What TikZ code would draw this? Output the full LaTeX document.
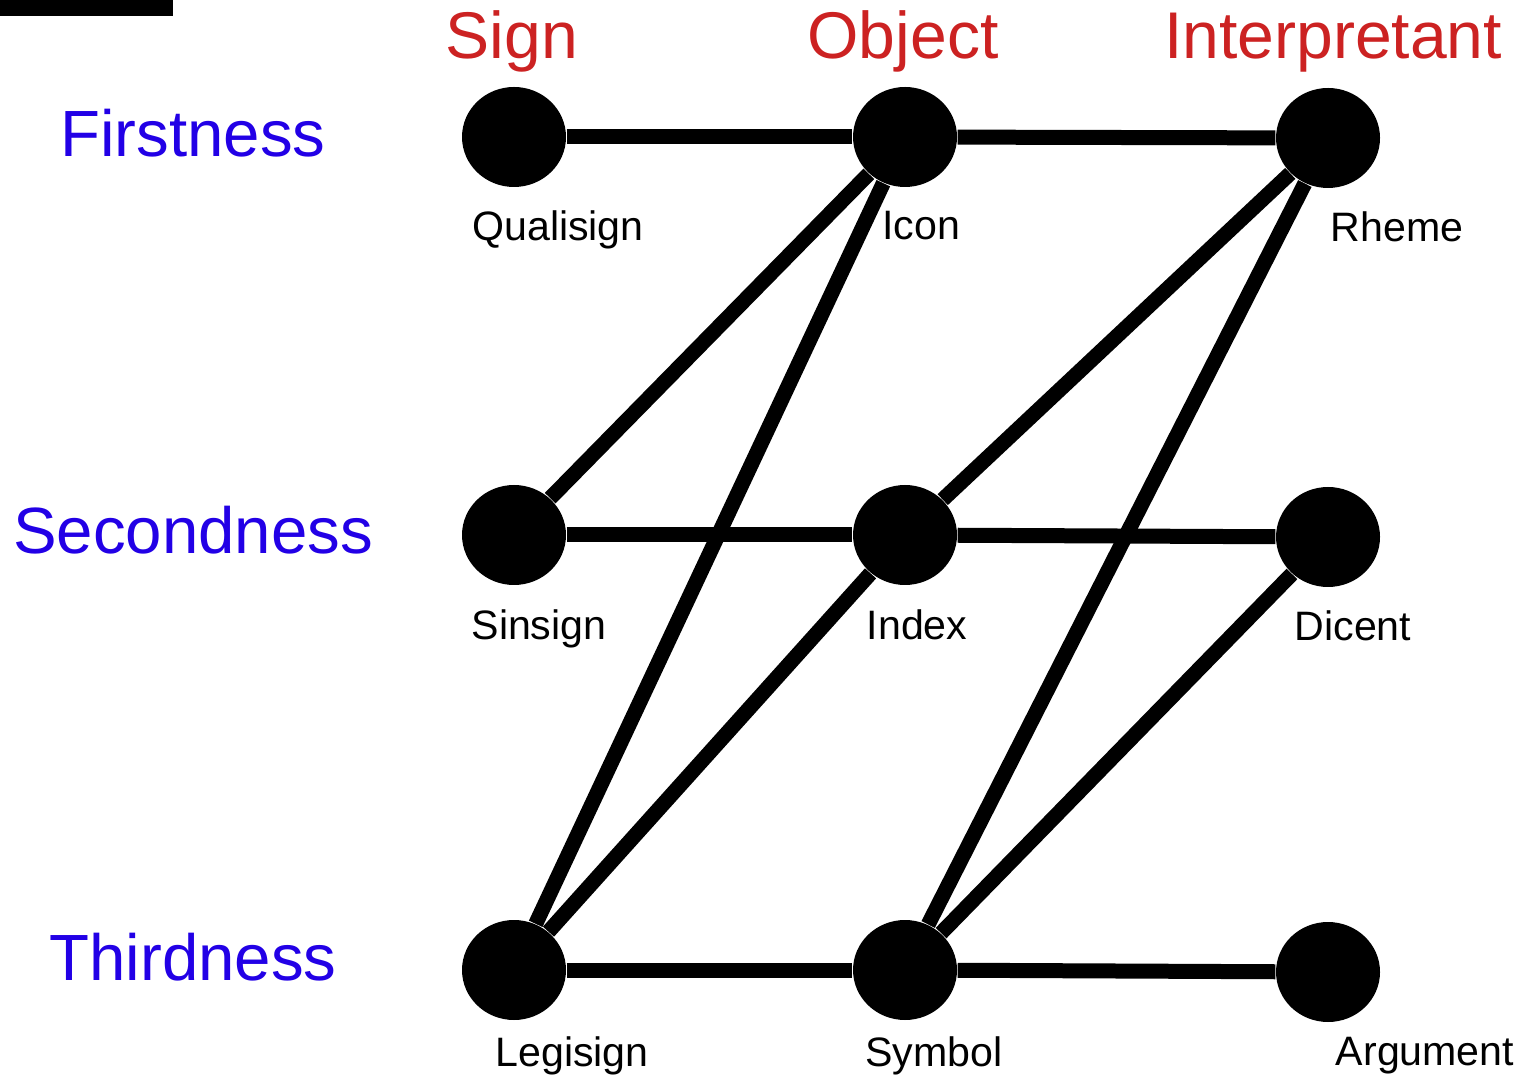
\documentclass[tikz,border=0pt]{standalone}
\usepackage{fontspec}
\setmainfont{Liberation Sans}
\usetikzlibrary{
    positioning,
    shapes.geometric
}
\definecolor{HeadRed}{RGB}{204,34,34}
\definecolor{CatBlue}{RGB}{34,0,230}

\begin{document}
\begin{tikzpicture}[
    sigdot/.style={ellipse, fill=black, minimum width=1.04cm, minimum height=1cm, inner sep=0pt},
    lbl/.style={font=\fontsize{11.7}{14}\selectfont, inner sep=0pt},
    header/.style={font=\fontsize{18.8}{22}\selectfont, text=HeadRed, inner sep=0pt, anchor=base},
    category/.style={font=\fontsize{18.6}{22}\selectfont, text=CatBlue, inner sep=0pt, anchor=base},
    link/.style={line width=0.15cm}
]
\useasboundingbox (0,0) rectangle (15.22,-10.75);
\fill (0,0) rectangle (1.73,-0.16);

% column heads and row heads
\node[header] (sign) at (5.12,-0.59) {Sign};
\node[header] (object) at (9.03,-0.59) {Object};
\node[header] (interp) at (13.33,-0.59) {Interpretant};
\node[category] (first) at (1.93,-1.57) {Firstness};
\node[category] (second) at (1.93,-5.54) {Secondness};
\node[category] (third) at (1.93,-9.80) {Thirdness};

% the nine classes
\node[sigdot] (qualisign) at (5.14,-1.37) {};
\node[sigdot] (icon) at (9.05,-1.37) {};
\node[sigdot] (rheme) at (13.28,-1.38) {};
\node[sigdot] (sinsign) at (5.14,-5.35) {};
\node[sigdot] (index) at (9.05,-5.35) {};
\node[sigdot] (dicent) at (13.28,-5.37) {};
\node[sigdot] (legisign) at (5.14,-9.70) {};
\node[sigdot] (symbol) at (9.05,-9.70) {};
\node[sigdot] (argument) at (13.28,-9.72) {};

\node[lbl, below=0.22cm of qualisign, xshift=0.44cm] (qualisign-lbl) {Qualisign};
\node[lbl, below=0.23cm of icon, xshift=0.16cm] (icon-lbl) {Icon};
\node[lbl, below=0.22cm of rheme, xshift=0.69cm] (rheme-lbl) {Rheme};
\node[lbl, below=0.23cm of sinsign, xshift=0.25cm] (sinsign-lbl) {Sinsign};
\node[lbl, below=0.23cm of index, xshift=0.12cm] (index-lbl) {Index};
\node[lbl, below=0.22cm of dicent, xshift=0.25cm] (dicent-lbl) {Dicent};
\node[lbl, below=0.15cm of legisign, xshift=0.58cm] (legisign-lbl) {Legisign};
\node[lbl, below=0.15cm of symbol, xshift=0.29cm] (symbol-lbl) {Symbol};
\node[lbl, below=0.14cm of argument, xshift=0.97cm] (argument-lbl) {Argument};

\draw[link] (qualisign) -- (icon);
\draw[link] (icon) -- (rheme);
\draw[link] (icon) -- (sinsign);
\draw[link] (icon) -- (legisign);
\draw[link] (rheme) -- (index);
\draw[link] (rheme) -- (symbol);
\draw[link] (sinsign) -- (index);
\draw[link] (index) -- (dicent);
\draw[link] (index) -- (legisign);
\draw[link] (dicent) -- (symbol);
\draw[link] (legisign) -- (symbol);
\draw[link] (symbol) -- (argument);
\end{tikzpicture}
\end{document}
